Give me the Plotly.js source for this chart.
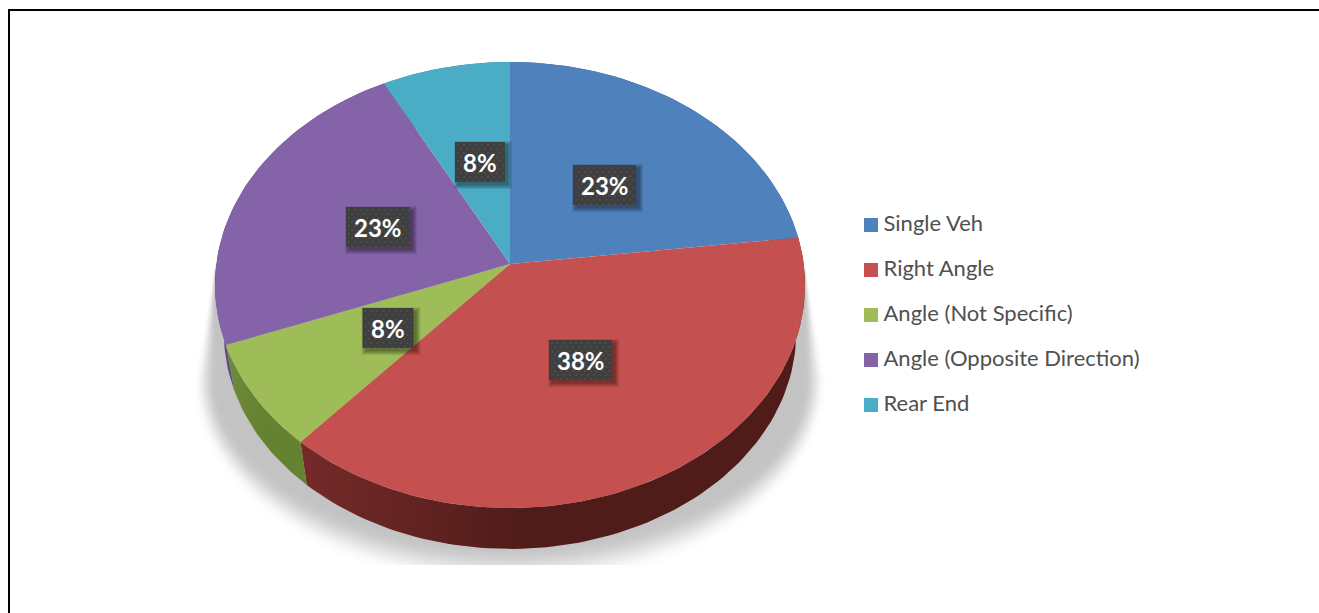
<!DOCTYPE html>
<html>
<head>
<meta charset="utf-8">
<script src="https://cdn.plot.ly/plotly-3.0.1.min.js"></script>
<style>html,body{margin:0;padding:0;background:#fff}#chart{width:1319px;height:613px}</style>
</head>
<body>
<div id="chart"></div>
<script>
// ---- data ----
const categories = ['Single Veh', 'Right Angle', 'Angle (Not Specific)', 'Angle (Opposite Direction)', 'Rear End'];
const crashCounts = [3, 5, 1, 3, 1];
const percentLabels = ['23%', '38%', '8%', '23%', '8%'];

// ---- styles ----
const topColors = ['#4f81bd', '#c4514f', '#9ebd59', '#8463a8', '#4bacc6'];
const wallLeft  = ['#3a5f8c', '#752a28', '#6d8b3a', '#5f4a80', '#35808f'];
const wallRight = ['#3a5f8c', '#4f1c1a', '#64822f', '#5f4a80', '#35808f'];

// ---- geometry of the tilted disc, in pixels of the 1319x613 page ----
const apexX = 510, apexY = 264, k = 0.0942, A = 293.7, B = 221;
const wallScale = 0.97, wallDrop = 48.3;
const labelCentres = [[604.5, 185], [580.5, 360], [388, 328], [378, 227], [480, 162]];
const labelBox = [[31.5, 20], [31.5, 20], [25.5, 20], [32, 20], [25, 20]];
const legendMarkerX = 871, legendTopRow = 225, legendRowStep = 45;

function project(turn, wall) {
  const a = turn * 2 * Math.PI, x = Math.sin(a), y = Math.cos(a), w = 1 + k * y;
  const s = wall ? wallScale : 1, d = wall ? wallDrop : 0;
  return [apexX + s * A * x / w, apexY + d - s * B * y / w];
}
const total = crashCounts.reduce((p, c) => p + c, 0);
let acc = 0;
const spans = crashCounts.map(v => { const s = [acc / total, (acc + v) / total]; acc += v; return s; });

function arc(span, wall, reverse) {
  const n = Math.max(8, Math.round((span[1] - span[0]) * 240)), pts = [];
  for (let i = 0; i <= n; i++) pts.push(project(span[0] + (span[1] - span[0]) * i / n, wall));
  return reverse ? pts.reverse() : pts;
}
function poly(pts, name, fill, extra) {
  return Object.assign({
    type: 'scatter', mode: 'lines', x: pts.map(p => p[0]), y: pts.map(p => p[1]),
    fill: 'toself', fillcolor: fill, line: {width: 0}, hoverinfo: 'skip', showlegend: false, name: name
  }, extra || {});
}

const traces = [];

// soft shadow under the disc: stacked translucent outlines, sparse at both ends of the falloff
const shadowLayers = 30;
for (let i = 0; i < shadowLayers; i++) {
  const u = i / (shadowLayers - 1), t = 0.5 - Math.sin(Math.asin(1 - 2 * u) / 3);
  const rx = 316 - 22 * t, ry = 208 - 42 * t, yc = 380, pts = [];
  pts.push([apexX - 295, 262 + 14 * t]);
  for (let d = 0; d <= 180; d += 3) {
    const r = d * Math.PI / 180;
    pts.push([apexX - rx * Math.cos(r), Math.min(yc + ry * Math.sin(r), 565)]);
  }
  pts.push([apexX + 295, 262 + 14 * t]);
  traces.push(poly(pts, 'shadow', 'rgba(100,105,105,0.0145)'));
}

// side walls then top faces, each slice from its share of the total
spans.forEach((sp, i) => {
  traces.push(poly(arc(sp, false, false).concat(arc(sp, true, true)), categories[i] + ' wall', wallRight[i], {
    fillgradient: {type: 'horizontal', colorscale: [[0, wallLeft[i]], [0.45, wallRight[i]], [1, wallRight[i]]]}
  }));
});
spans.forEach((sp, i) => {
  const pts = [[apexX, apexY]].concat(arc(sp, false, false));
  pts.push([apexX, apexY]);
  traces.push(poly(pts, categories[i], topColors[i], {hoverinfo: 'name'}));
});

// percentage plates: drop shadow, plate, dot texture
labelCentres.forEach((c, i) => {
  const h = labelBox[i];
  const rect = (dx, dy, g) => [[c[0]-h[0]-g+dx, c[1]-h[1]-g+dy], [c[0]+h[0]+g+dx, c[1]-h[1]-g+dy],
                               [c[0]+h[0]+g+dx, c[1]+h[1]+g+dy], [c[0]-h[0]-g+dx, c[1]+h[1]+g+dy], [c[0]-h[0]-g+dx, c[1]-h[1]-g+dy]];
  [4, 3, 2, 1, 0].forEach(g => traces.push(poly(rect(3, 3, g), 'plate shadow', 'rgba(0,0,0,0.09)')));
  traces.push(poly(rect(0, 0, 0), percentLabels[i], '#403f3f'));
  const dx = [], dy = [];
  for (let r = 0, yy = c[1]-h[1]+3; yy < c[1]+h[1]; yy += 4, r++) {
    for (let xx = c[0]-h[0]+3+(r % 2 ? 3 : 0); xx < c[0]+h[0]; xx += 6) { dx.push(xx); dy.push(yy); }
  }
  traces.push({type: 'scatter', mode: 'markers', x: dx, y: dy, hoverinfo: 'skip', showlegend: false,
    marker: {size: 1.6, color: '#5c5b5b'}});
});

// legend entries: swatch with its name to the right
categories.forEach((name, i) => {
  traces.push({type: 'scatter', mode: 'markers+text', x: [legendMarkerX], y: [legendTopRow + i * legendRowStep],
    name: name, text: ['\u2009' + name], textposition: 'middle right', showlegend: false, hoverinfo: 'name',
    textfont: {family: 'Lato, sans-serif', size: 22, color: '#505050'},
    marker: {symbol: 'square', size: 14, color: topColors[i]}});
});

const annotations = labelCentres.map((c, i) => ({
  x: c[0], y: c[1], xref: 'x', yref: 'y', text: '<b>' + percentLabels[i] + '</b>', showarrow: false,
  font: {family: 'Lato, sans-serif', size: 24, color: '#ffffff'}
}));

const layout = {
  width: 1319, height: 613, margin: {l: 0, r: 0, t: 0, b: 0},
  paper_bgcolor: '#ffffff', plot_bgcolor: '#ffffff', showlegend: false,
  xaxis: {range: [0, 1319], visible: false, fixedrange: true},
  yaxis: {range: [613, 0], visible: false, fixedrange: true},
  annotations: annotations,
  shapes: [
    {type: 'line', xref: 'x', yref: 'y', x0: 8, x1: 1319, y0: 10, y1: 10, line: {color: '#000', width: 2}},
    {type: 'line', xref: 'x', yref: 'y', x0: 9, x1: 9, y0: 9, y1: 613, line: {color: '#000', width: 2}}
  ]
};
Plotly.newPlot('chart', traces, layout, {displayModeBar: false, responsive: false});
</script>
</body>
</html>
